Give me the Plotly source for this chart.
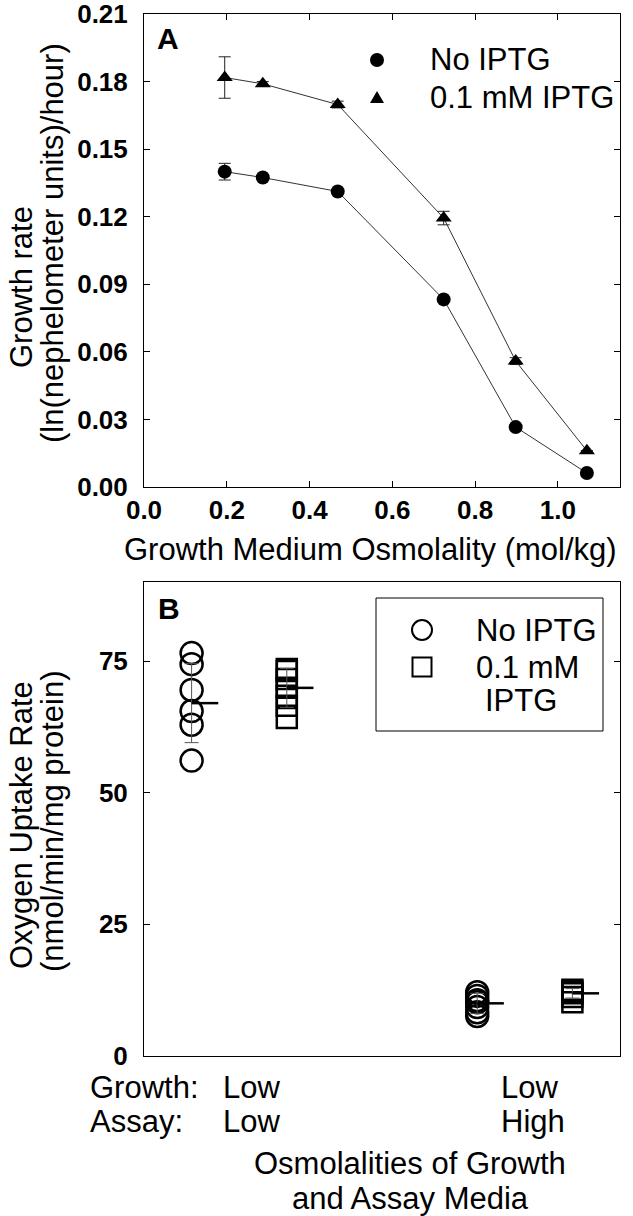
import plotly.graph_objects as go

# ---------------- Panel A data ----------------
osmolality = [0.195, 0.287, 0.468, 0.724, 0.898, 1.07]
rate_no_iptg = [0.1400, 0.1374, 0.1312, 0.0833, 0.0266, 0.0062]
err_no_iptg = [0.0037, 0.0, 0.0, 0.0, 0.0, 0.0]
rate_iptg = [0.1818, 0.1790, 0.1698, 0.1194, 0.0559, 0.0161]
err_iptg = [0.0092, 0.0010, 0.0015, 0.0030, 0.0015, 0.0]

a_xticks = [0.0, 0.2, 0.4, 0.6, 0.8, 1.0]
a_yticks = [0.00, 0.03, 0.06, 0.09, 0.12, 0.15, 0.18, 0.21]

# ---------------- Panel B data ----------------
group_pos_no = [1, 4]      # circle columns
group_pos_iptg = [2, 5]    # square columns
low_low_no = [76.5, 74.4, 69.5, 65.5, 62.9, 56.1]
low_low_iptg = [73.5, 73.1, 71.6, 69.9, 68.4, 66.5, 64.2]
low_high_no = [12.1, 11.4, 10.6, 10.2, 9.3, 8.3, 7.6]
low_high_iptg = [12.6, 12.3, 11.9, 11.2, 10.2]
mean_no = [67.0, 10.0]
sd_no = [7.5, 1.9]
mean_iptg = [69.9, 11.9]
sd_iptg = [3.7, 0.9]
b_yticks = [0, 25, 50, 75]
growth_labels = ["Low", "Low"]
assay_labels = ["Low", "High"]

W, H = 633, 1216
FONT = "Liberation Sans, Arial, sans-serif"
TS = 31  # title / legend text size


def px(x):
    return x / W


def py(y):
    return 1 - y / H


fig = go.Figure()

# Panel A traces
fig.add_trace(go.Scatter(
    x=osmolality, y=rate_no_iptg, mode="lines+markers",
    line=dict(color="#333333", width=1),
    marker=dict(symbol="circle", size=14, color="black"),
    error_y=dict(type="data", array=err_no_iptg, visible=True, color="#222222", thickness=1, width=6),
    xaxis="x", yaxis="y", showlegend=False, cliponaxis=False))
fig.add_trace(go.Scatter(
    x=osmolality, y=rate_iptg, mode="lines+markers",
    line=dict(color="#333333", width=1),
    marker=dict(symbol="triangle-up", size=14, color="black"),
    error_y=dict(type="data", array=err_iptg, visible=True, color="#222222", thickness=1, width=6),
    xaxis="x", yaxis="y", showlegend=False, cliponaxis=False))

# Panel B traces
groups = [
    (group_pos_no[0], low_low_no, "circle-open", 22),
    (group_pos_iptg[0], low_low_iptg, "square-open", 20),
    (group_pos_no[1], low_high_no, "circle-open", 22),
    (group_pos_iptg[1], low_high_iptg, "square-open", 20),
]
for gx, vals, sym, sz in groups:
    fig.add_trace(go.Scatter(
        x=[gx] * len(vals), y=vals, mode="markers",
        marker=dict(symbol=sym, size=sz, color="black", line=dict(width=2.5, color="black")),
        xaxis="x2", yaxis="y2", showlegend=False))

# error bars and mean lines
for pos, means, sds in [(group_pos_no, mean_no, sd_no), (group_pos_iptg, mean_iptg, sd_iptg)]:
    fig.add_trace(go.Scatter(
        x=pos, y=means, mode="markers",
        marker=dict(size=1, color="rgba(0,0,0,0)"),
        error_y=dict(type="data", array=sds, visible=True, color="#555555", thickness=1, width=7),
        xaxis="x2", yaxis="y2", showlegend=False))
    for gx, m in zip(pos, means):
        fig.add_trace(go.Scatter(
            x=[gx, gx + 0.28], y=[m, m], mode="lines",
            line=dict(color="black", width=2.5),
            xaxis="x2", yaxis="y2", showlegend=False))

axis_common = dict(
    showline=True, linecolor="black", linewidth=1, mirror="ticks",
    ticks="inside", ticklen=6, tickcolor="black", tickwidth=1,
    showgrid=False, zeroline=False, automargin=False, ticklabeloverflow="allow",
    tickfont=dict(family=FONT, size=26, color="black", weight="bold"),
)

dom_x = [px(144), px(620)]
fig.update_layout(
    width=W, height=H,
    margin=dict(l=0, r=0, t=0, b=0, pad=0, autoexpand=False),
    paper_bgcolor="white", plot_bgcolor="white",
    xaxis=dict(domain=dom_x, anchor="y", range=[0, 1.15], tickvals=a_xticks,
               tickformat=".1f", ticklabelstandoff=0, **axis_common),
    yaxis=dict(domain=[py(487), py(14)], anchor="x", range=[0, 0.21], tickvals=a_yticks,
               tickformat=".2f", ticklabelstandoff=10, **axis_common),
    xaxis2=dict(domain=dom_x, anchor="y2", range=[0.5, 5.5], showline=True, linecolor="black",
                linewidth=1, mirror=True, ticks="", showticklabels=False, showgrid=False,
                zeroline=False, automargin=False),
    yaxis2=dict(domain=[py(1056), py(582)], anchor="x2", range=[0, 90], tickvals=b_yticks,
                ticklabelstandoff=10, **axis_common),
)

ann = []


def text(x, y, s, size=TS, xanchor="left", bold=False, angle=0):
    ann.append(dict(x=px(x), y=py(y), xref="paper", yref="paper", text=s, showarrow=False,
                    xanchor=xanchor, yanchor="middle", textangle=angle,
                    font=dict(family=FONT, size=size, color="black",
                              weight="bold" if bold else "normal")))


# Panel A texts
text(155, 38, "A", size=30, bold=True)
text(428, 60, "No IPTG")
text(428, 97, "0.1 mM IPTG")
text(370, 549, "Growth Medium Osmolality (mol/kg)", xanchor="center")
text(21, 287, "Growth rate", xanchor="center", angle=-90)
text(52, 243, "(ln(nephelometer units)/hour)", xanchor="center", angle=-90)

# Panel B texts
text(156, 608, "B", size=30, bold=True)
text(474, 630, "No IPTG")
text(474, 667, "0.1 mM")
text(483, 700, "IPTG")
text(21, 825, "Oxygen Uptake Rate", xanchor="center", angle=-90)
text(52, 822, "(nmol/min/mg protein)", xanchor="center", angle=-90)
text(88, 1087, "Growth:")
text(88, 1121, "Assay:")
label_left = [221, 499]
for lx, g, a in zip(label_left, growth_labels, assay_labels):
    text(lx, 1087, g)
    text(lx, 1121, a)
text(410, 1163, "Osmolalities of Growth", xanchor="center")
text(410, 1198, "and Assay Media", xanchor="center")

fig.update_layout(annotations=ann)

# legend symbols (shapes)
shapes = []
# Panel A legend
shapes.append(dict(type="circle", xref="paper", yref="paper",
                   x0=px(377 - 7), x1=px(377 + 7), y0=py(60 + 7), y1=py(60 - 7),
                   fillcolor="black", line=dict(color="black", width=0)))
shapes.append(dict(type="path", xref="paper", yref="paper",
                   path=f"M {px(370)} {py(103)} L {px(384)} {py(103)} L {px(377)} {py(91)} Z",
                   fillcolor="black", line=dict(color="black", width=0)))
# Panel B legend box
shapes.append(dict(type="rect", xref="paper", yref="paper",
                   x0=px(376), x1=px(603), y0=py(731), y1=py(598),
                   line=dict(color="black", width=1)))
shapes.append(dict(type="circle", xref="paper", yref="paper",
                   x0=px(422 - 10), x1=px(422 + 10), y0=py(630 + 10), y1=py(630 - 10),
                   line=dict(color="black", width=2)))
shapes.append(dict(type="rect", xref="paper", yref="paper",
                   x0=px(422 - 9.5), x1=px(422 + 9.5), y0=py(667 + 9.5), y1=py(667 - 9.5),
                   line=dict(color="black", width=2)))
fig.update_layout(shapes=shapes)

fig.write_html("out.html", config={"displayModeBar": False},
               post_script="document.body.style.margin='0px';")
